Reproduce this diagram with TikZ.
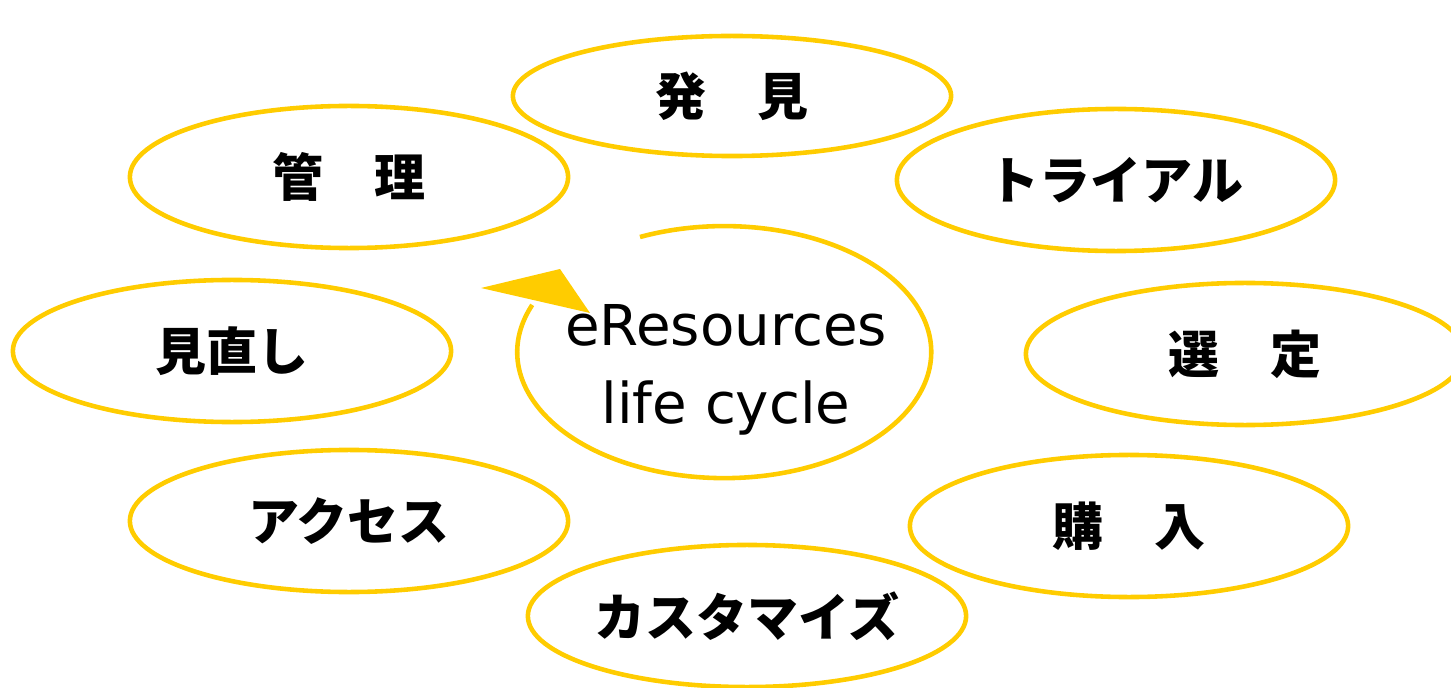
\documentclass[tikz,border=0pt]{standalone}
\usepackage{fontspec}
\setmainfont{DejaVu Sans}
\newfontfamily\jpfont{Noto Sans CJK JP}
\usetikzlibrary{shapes.geometric}
\definecolor{cycleyellow}{RGB}{255,204,0}
\tikzset{
  stage/.style={ellipse, draw=cycleyellow, line width=1.3pt,
    minimum width=4.38cm, minimum height=1.42cm, inner sep=0pt,
    font=\jpfont\bfseries\fontsize{14.5}{17}\selectfont}
}
\begin{document}
\begin{tikzpicture}[x=0.01cm,y=-0.01cm]
    \useasboundingbox (0,0) rectangle (1451,688);
    % stages of the cycle
    \node[stage, minimum height=1.2cm] (discover) at (732,96) {発　見};
    \node[stage] (trial) at (1116,180) {トライアル};
    \node[stage] (select) at (1245,354) {選　定};
    \node[stage] (purchase) at (1129,526) {購　入};
    \node[stage] (customize) at (747,616) {カスタマイズ};
    \node[stage] (access) at (349,521) {アクセス};
    \node[stage] (review) at (232,351) {見直し};
    \node[stage] (manage) at (349,177) {管　理};
    % centre
    \node[font=\fontsize{16}{22}\selectfont, align=center] (centre) at (726,370)
      {eResources\\life cycle};
    \draw[cycleyellow, line width=1.3pt] (640,237)
      arc[start angle=114, end angle=-202, x radius=207, y radius=-126];
    % arrowhead
    \fill[cycleyellow] (481,288) -- (560,269) -- (590,313) -- cycle;
\end{tikzpicture}
\end{document}
